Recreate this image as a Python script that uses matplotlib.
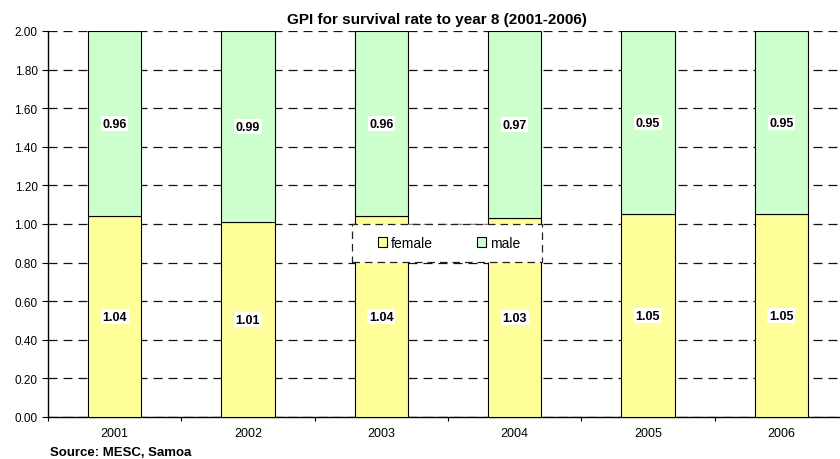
import matplotlib
matplotlib.use('Agg')
import matplotlib.pyplot as plt
from matplotlib.patches import Rectangle
import numpy as np

plt.rcParams['font.family'] = ['Liberation Sans', 'DejaVu Sans']

years = ['2001', '2002', '2003', '2004', '2005', '2006']
female = [1.04, 1.01, 1.04, 1.03, 1.05, 1.05]
male = [0.96, 0.99, 0.96, 0.97, 0.95, 0.95]

W, H = 840, 460
fig = plt.figure(figsize=(W / 100, H / 100), dpi=100)
# axes runs past the right edge, as in the original screenshot
ax = fig.add_axes([48 / W, 42 / H, 800 / W, 386 / H])

x = np.arange(len(years))
ax.bar(x, female, width=0.4, color='#FFFF99', edgecolor='black', linewidth=0.8,
       label='female', zorder=3)
ax.bar(x, male, width=0.4, bottom=female, color='#CCFFCC', edgecolor='black',
       linewidth=0.8, label='male', zorder=3)

box = dict(facecolor='white', edgecolor='none', pad=1.2)
for i in range(len(years)):
    ax.text(x[i], female[i] / 2, '%.2f' % female[i], ha='center', va='center',
            fontsize=9, fontweight='bold', bbox=box, zorder=4)
    ax.text(x[i], female[i] + male[i] / 2, '%.2f' % male[i], ha='center', va='center',
            fontsize=9, fontweight='bold', bbox=box, zorder=4)

ax.set_xlim(-0.5, len(years) - 0.5)
ax.set_ylim(0, 2.0)
yt = np.arange(0, 2.01, 0.2)
ax.set_yticks(yt)
ax.set_yticklabels(['%.2f' % v for v in yt], fontsize=8.5)
ax.yaxis.grid(True, color='#111111', linestyle=(0, (7.2, 4.8)), linewidth=0.9, zorder=0)

ax.set_xticks(x)
ax.set_xticklabels(years, fontsize=9)
ax.set_xticks(np.arange(-0.5, len(years), 1), minor=True)
ax.tick_params(axis='x', which='major', length=0, pad=7.5)
ax.tick_params(axis='x', which='minor', length=3, direction='out', width=0.8)
ax.tick_params(axis='y', length=4, width=0.8, direction='out', pad=3.5)

ax.spines['top'].set_visible(False)
ax.spines['right'].set_visible(False)
ax.spines['left'].set_linewidth(1.0)
ax.spines['bottom'].set_linewidth(1.0)
ax.set_axisbelow(True)

# legend box, dashed frame
lx0, lx1, ly0, ly1 = 352, 542, 225, 263
frame = Rectangle((lx0 / W, 1 - ly1 / H), (lx1 - lx0) / W, (ly1 - ly0) / H,
                  transform=fig.transFigure, facecolor='white', edgecolor='#222222',
                  linestyle=(0, (6, 4)), linewidth=0.9, zorder=5, clip_on=False)
ax.add_patch(frame)
leg = ax.legend(loc='center', bbox_to_anchor=(449 / W, 1 - 244 / H),
                bbox_transform=fig.transFigure, ncol=2, fontsize=10, frameon=False,
                handlelength=0.65, handleheight=0.65, handletextpad=0.25,
                columnspacing=3.2, borderaxespad=0)
leg.set_zorder(6)

fig.text(437 / W, 1 - 20 / H, 'GPI for survival rate to year 8 (2001-2006)',
         ha='center', va='center', fontsize=11, fontweight='bold')
fig.text(50 / W, 1 - 453 / H, 'Source: MESC, Samoa', ha='left', va='center',
         fontsize=9.5, fontweight='bold')

fig.savefig('out.png', dpi=100)
